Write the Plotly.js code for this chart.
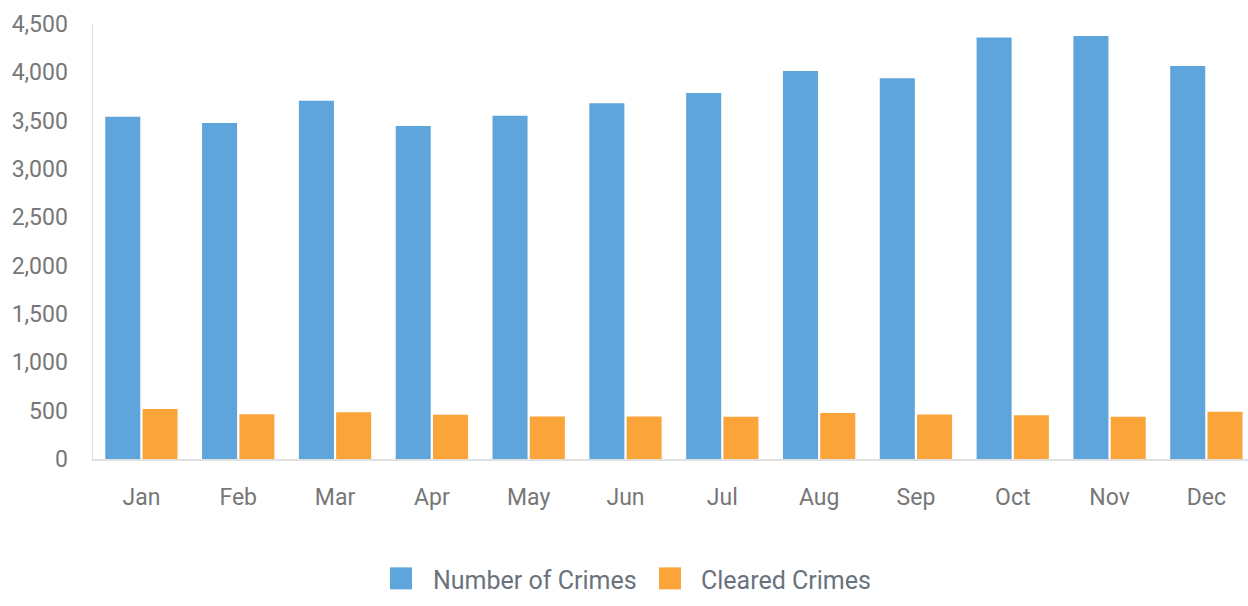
<!DOCTYPE html>
<html>
<head>
<meta charset="utf-8">
<script src="https://cdn.plot.ly/plotly-3.0.1.min.js"></script>
<style>html,body{margin:0;padding:0;background:#fff;}#chart{width:1248px;height:606px;}</style>
</head>
<body>
<div id="chart"></div>
<script>
const months = ["Jan","Feb","Mar","Apr","May","Jun","Jul","Aug","Sep","Oct","Nov","Dec"];
const numberOfCrimes = [3540, 3475, 3705, 3445, 3550, 3680, 3785, 4015, 3940, 4360, 4375, 4065];
const clearedCrimes = [518, 463, 484, 457, 440, 439, 436, 477, 460, 453, 436, 488];
const seriesNames = ["Number of Crimes", "Cleared Crimes"];
const colors = ["#5DA5DA", "#FAA43A"];

const traces = [
  {type:"bar", name:seriesNames[0], x:months, y:numberOfCrimes, marker:{color:colors[0]}, showlegend:false, hoverinfo:"y"},
  {type:"bar", name:seriesNames[1], x:months, y:clearedCrimes, marker:{color:colors[1]}, showlegend:false, hoverinfo:"y"}
];

const tickFont = {family:"Roboto, sans-serif", size:23, color:"#777777"};
const legendFont = {family:"Roboto, sans-serif", size:25, color:"#6a737d"};

const layout = {
  width:1248, height:606,
  margin:{l:93, r:0, t:24, b:146.5},
  paper_bgcolor:"#ffffff", plot_bgcolor:"#ffffff",
  barmode:"group", bargap:0.23, bargroupgap:0.06,
  xaxis:{
    type:"category", range:[-0.5, 11.43],
    showgrid:false, zeroline:false,
    showline:true, linecolor:"#e0e0e0", linewidth:1.5,
    ticks:"outside", ticklen:0, ticklabelstandoff:17,
    tickfont:tickFont, fixedrange:true
  },
  yaxis:{
    range:[0,4500], tickvals:[0,500,1000,1500,2000,2500,3000,3500,4000,4500],
    tickformat:",d", showgrid:false, zeroline:false,
    showline:true, linecolor:"#e0e0e0", linewidth:1.5,
    ticks:"outside", ticklen:0, ticklabelstandoff:19,
    tickfont:tickFont, fixedrange:true
  },
  shapes:[
    {type:"rect", xref:"paper", yref:"paper", x0:(390-93)/1155, x1:(412-93)/1155, y0:(459.5-590)/435.5, y1:(459.5-568)/435.5, fillcolor:colors[0], line:{width:0}},
    {type:"rect", xref:"paper", yref:"paper", x0:(659-93)/1155, x1:(681-93)/1155, y0:(459.5-590)/435.5, y1:(459.5-568)/435.5, fillcolor:colors[1], line:{width:0}}
  ],
  annotations:[
    {xref:"paper", yref:"paper", x:(431-93)/1155, y:(459.5-581)/435.5, xanchor:"left", yanchor:"middle", text:seriesNames[0], showarrow:false, font:legendFont},
    {xref:"paper", yref:"paper", x:(699-93)/1155, y:(459.5-581)/435.5, xanchor:"left", yanchor:"middle", text:seriesNames[1], showarrow:false, font:legendFont}
  ]
};

Plotly.newPlot("chart", traces, layout, {displayModeBar:false, staticPlot:true});
</script>
</body>
</html>
